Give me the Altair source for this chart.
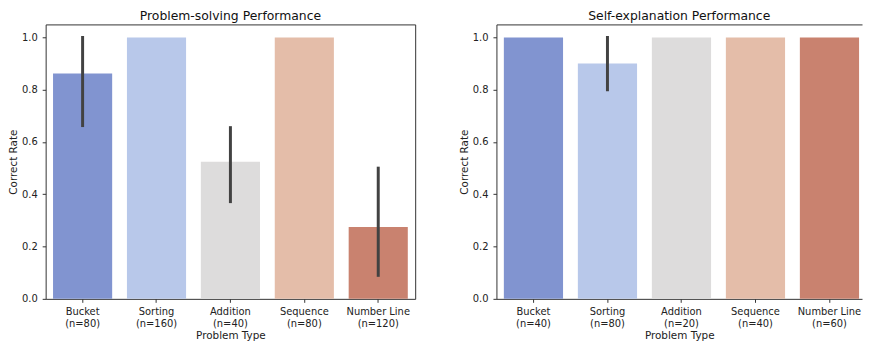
import altair as alt
import pandas as pd

types = ["Bucket", "Sorting", "Addition", "Sequence", "Number Line"]
colors = ["#8194d0", "#b8c8ea", "#dddcdc", "#e4bda9", "#c9826f"]

ps_n = [80, 160, 40, 80, 120]
ps_rate = [0.8625, 1.0, 0.525, 1.0, 0.275]
ps_lo = [0.663, None, 0.372, None, 0.09]
ps_hi = [1.0, None, 0.655, None, 0.5]

se_n = [40, 80, 20, 40, 60]
se_rate = [1.0, 0.9, 1.0, 1.0, 1.0]
se_lo = [None, 0.8, None, None, None]
se_hi = [None, 1.0, None, None, None]

y_ticks = [0.0, 0.2, 0.4, 0.6, 0.8, 1.0]
FRAME = "#333333"


def panel(title, ns, rates, los, his, width, pad_outer, align, open_right):
    labels = [f"{t}\n(n={n})" for t, n in zip(types, ns)]
    df = pd.DataFrame({"type": types, "label": labels, "rate": rates})
    ci = pd.DataFrame({"label": labels, "lo": los, "hi": his}).dropna()
    x_scale = alt.Scale(paddingInner=0.2, paddingOuter=pad_outer, align=align)
    y_scale = alt.Scale(domain=[0, 1.05], nice=False, zero=True)
    x = alt.X(
        "label:N",
        sort=labels,
        scale=x_scale,
        axis=alt.Axis(
            title="Problem Type",
            labelAngle=0,
            labelExpr="split(datum.label, '\\n')",
            labelLineHeight=12,
            labelPadding=4,
            titlePadding=3,
            domain=open_right,
            domainColor=FRAME,
        ),
    )
    bars = alt.Chart(df).mark_bar().encode(
        x=x,
        y=alt.Y(
            "rate:Q",
            scale=y_scale,
            axis=alt.Axis(
                title="Correct Rate",
                values=y_ticks,
                format=".1f",
                labelPadding=5,
                titlePadding=3,
                domain=open_right,
                domainColor=FRAME,
            ),
        ),
        color=alt.Color(
            "type:N", scale=alt.Scale(domain=types, range=colors), legend=None
        ),
    )
    if open_right:
        err_x = alt.X(
            "label:N",
            sort=labels,
            axis=alt.Axis(orient="top", labels=False, ticks=False, title=None,
                          domain=True, domainColor=FRAME),
        )
    else:
        err_x = alt.X("label:N", sort=labels)
    err = alt.Chart(ci).mark_rule(
        color="#424242", strokeWidth=3, strokeCap="square"
    ).encode(
        x=err_x,
        y=alt.Y("lo:Q", scale=y_scale),
        y2="hi:Q",
    )
    layered = alt.layer(bars, err)
    if open_right:
        layered = layered.resolve_axis(x="independent")
        view = alt.ViewBackground(stroke="transparent")
    else:
        view = alt.ViewBackground(stroke=FRAME, strokeWidth=1)
    return layered.properties(
        width=width,
        height=277,
        view=view,
        title=alt.TitleParams(title, fontSize=12.5, fontWeight="normal",
                              font="DejaVu Sans", color="#111", offset=2),
    )


left = panel("Problem-solving Performance", ps_n, ps_rate, ps_lo, ps_hi,
             373, 0.1, 0.5, False)
right = panel("Self-explanation Performance", se_n, se_rate, se_lo, se_hi,
              369, 0.07, 0.716, True)

chart = (
    alt.hconcat(left, right, spacing=43)
    .properties(padding=0)
    .configure_axis(
        labelFont="DejaVu Sans",
        labelFontSize=10,
        labelColor="#222",
        titleFont="DejaVu Sans",
        titleFontSize=10.5,
        titleFontWeight="normal",
        titleColor="#222",
        tickColor=FRAME,
        tickSize=3.5,
        grid=False,
    )
)

chart.save("out.html", embed_options={"renderer": "svg", "actions": False})
